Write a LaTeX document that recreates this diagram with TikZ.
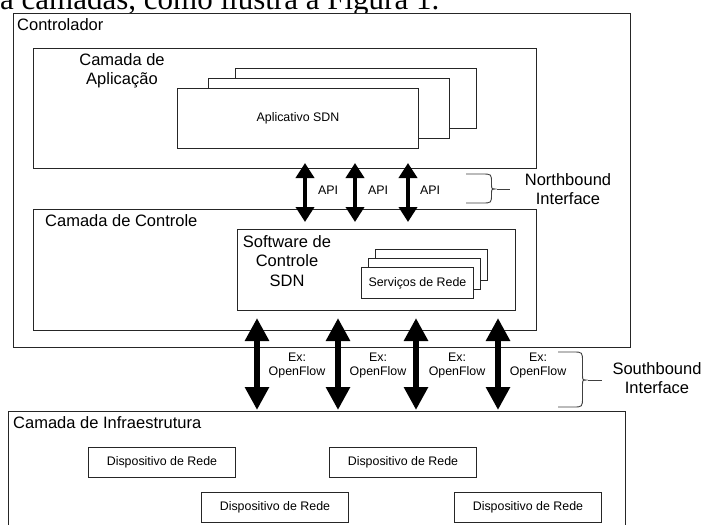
\documentclass[tikz,border=0pt]{standalone}
\usepackage{fontspec}
\setmainfont{Liberation Sans}
\newfontfamily\serifpage{Liberation Serif}
\usetikzlibrary{arrows.meta}
\begin{document}
\begin{tikzpicture}[x=1pt,y=-1pt,
  box/.style={draw=black!85, line width=0.9pt, fill=white, inner sep=0pt, anchor=north west},
  txt/.style={inner sep=0pt},
  big/.style={txt, font=\fontsize{16.5}{19.5}\selectfont},
  small/.style={txt, font=\fontsize{12.4}{14}\selectfont},
  napi/.style={line width=4.4pt, {Triangle[width=18pt,length=15pt]}-{Triangle[width=18pt,length=15pt]}},
  sapi/.style={line width=6.5pt, {Triangle[width=23pt,length=23pt]}-{Triangle[width=23pt,length=23pt]}},
  bracestyle/.style={draw=black!75, line width=0.9pt}
]
\useasboundingbox (0,0) rectangle (703,524);
\clip (0,0) rectangle (703,524);
\fill[white] (0,0) rectangle (703,524);

% cropped page text
\node[anchor=base west, inner sep=0pt, font=\serifpage\fontsize{31}{36}\selectfont] (cap) at (0,9.5) {a camadas, como ilustra a Figura 1.};

% Controlador
\node[box, minimum width=617pt, minimum height=334pt] (ctrl) at (13,13) {};
\node[big, anchor=west] (ctrlt) at (17,25) {Controlador};

% Camada de Aplicacao
\node[box, minimum width=503pt, minimum height=120pt] (app) at (33,48) {};
\node[big, align=center] (appt) at (122,71) {Camada de\\Aplicação};
\node[box, minimum width=241pt, minimum height=60pt] (app3) at (235,68) {};
\node[box, minimum width=241pt, minimum height=60pt] (app2) at (208,78) {};
\node[box, minimum width=241pt, minimum height=60pt] (app1) at (177,88) {};
\node[small] (app1t) at (app1.center) {Aplicativo SDN};

% Camada de Controle
\node[box, minimum width=503pt, minimum height=121pt] (ctl) at (33,209) {};
\node[big, anchor=west] (ctlt) at (45,221) {Camada de Controle};
\node[box, minimum width=278pt, minimum height=81pt] (sw) at (237,229) {};
\node[big, align=center] (swt) at (287,261) {Software de\\Controle\\SDN};
\node[box, minimum width=112pt, minimum height=31pt] (srv3) at (375,249) {};
\node[box, minimum width=112pt, minimum height=31pt] (srv2) at (368,258) {};
\node[box, minimum width=112pt, minimum height=31pt] (srv1) at (361,267) {};
\node[small] (srv1t) at (srv1.center) {Serviços de Rede};

% Northbound arrows
\coordinate (na1) at (305,163); \coordinate (nb1) at (305,222);
\coordinate (na2) at (355,163); \coordinate (nb2) at (355,222);
\coordinate (na3) at (408,163); \coordinate (nb3) at (408,222);
\draw[napi] (na1) -- (nb1);
\draw[napi] (na2) -- (nb2);
\draw[napi] (na3) -- (nb3);
\node[small] (api1) at (328,190) {API};
\node[small] (api2) at (378,190) {API};
\node[small] (api3) at (430,190) {API};

% Northbound brace
\draw[bracestyle] (466,174) -- (482,174) .. controls (491.5,174) .. (491.5,183)
  -- (491.5,184) .. controls (491.5,189) .. (496.5,189)
  .. controls (491.5,189) .. (491.5,194) -- (491.5,194)
  .. controls (491.5,203) .. (482,203) -- (466,203);
\draw[bracestyle] (496.5,189) -- (510,189);
\node[big, align=center] (nbt) at (568,189) {Northbound\\Interface};

% Camada de Infraestrutura
\node[box, minimum width=617pt, minimum height=140pt] (infra) at (8,411) {};
\node[big, anchor=west] (infrat) at (13,423) {Camada de Infraestrutura};
\node[box, minimum width=147pt, minimum height=30pt] (dev1) at (88,447) {};
\node[box, minimum width=147pt, minimum height=30pt] (dev2) at (329,447) {};
\node[box, minimum width=147pt, minimum height=30pt] (dev3) at (201,492) {};
\node[box, minimum width=147pt, minimum height=30pt] (dev4) at (454,492) {};
\node[small] (dev1t) at (dev1.center) {Dispositivo de Rede};
\node[small] (dev2t) at (dev2.center) {Dispositivo de Rede};
\node[small] (dev3t) at (dev3.center) {Dispositivo de Rede};
\node[small] (dev4t) at (dev4.center) {Dispositivo de Rede};

% Southbound arrows
\coordinate (sa1) at (257,318); \coordinate (sb1) at (257,410);
\coordinate (sa2) at (338,318); \coordinate (sb2) at (338,410);
\coordinate (sa3) at (416,318); \coordinate (sb3) at (416,410);
\coordinate (sa4) at (498,318); \coordinate (sb4) at (498,410);
\draw[sapi] (sa1) -- (sb1);
\draw[sapi] (sa2) -- (sb2);
\draw[sapi] (sa3) -- (sb3);
\draw[sapi] (sa4) -- (sb4);
\node[small, align=center] (of1) at (297,366) {Ex:\\OpenFlow};
\node[small, align=center] (of2) at (378,366) {Ex:\\OpenFlow};
\node[small, align=center] (of3) at (457,366) {Ex:\\OpenFlow};
\node[small, align=center] (of4) at (538,366) {Ex:\\OpenFlow};

% Southbound brace
\draw[bracestyle] (558,352) -- (573,352) .. controls (582.5,352) .. (582.5,362)
  -- (582.5,375) .. controls (582.5,380) .. (587.5,380)
  .. controls (582.5,380) .. (582.5,385) -- (582.5,397)
  .. controls (582.5,407) .. (573,407) -- (558,407);
\draw[bracestyle] (587.5,380) -- (602,380);
\node[big, align=center] (sbt) at (657,378) {Southbound\\Interface};
\end{tikzpicture}
\end{document}
